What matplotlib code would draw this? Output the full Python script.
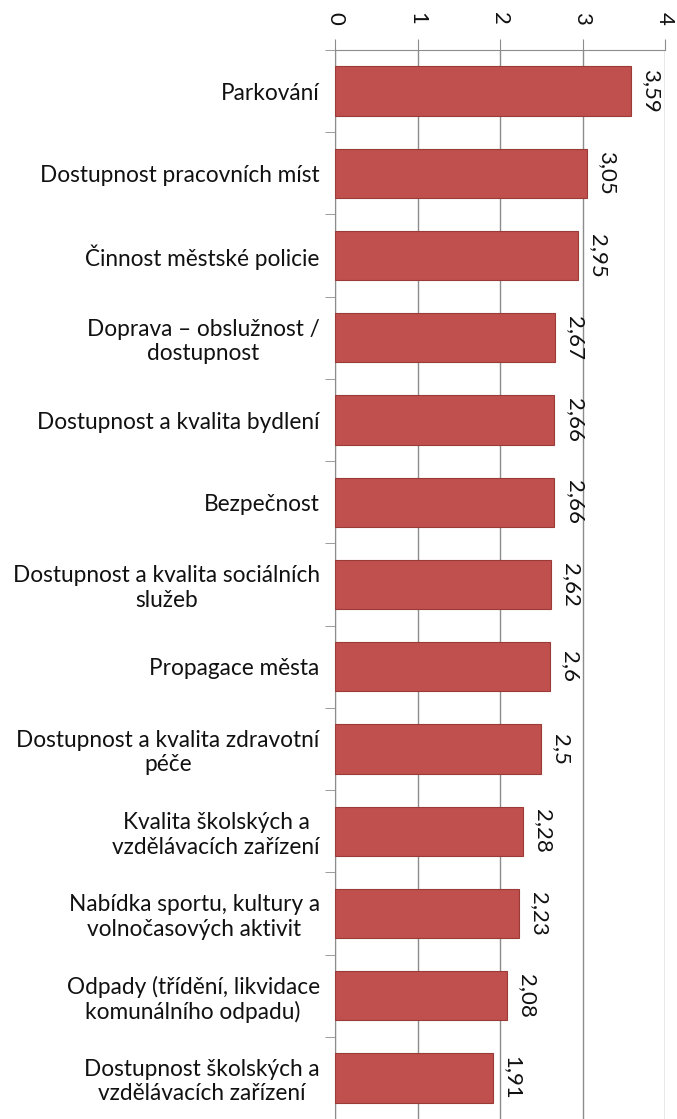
import matplotlib
matplotlib.use("Agg")
import matplotlib.pyplot as plt
import numpy as np

# survey categories (top to bottom) and mean scores
categories = [
    "Parkování",
    "Dostupnost pracovních míst",
    "Činnost městské policie",
    "Doprava – obslužnost /\ndostupnost",
    "Dostupnost a kvalita bydlení",
    "Bezpečnost",
    "Dostupnost a kvalita sociálních\nslužeb",
    "Propagace města",
    "Dostupnost a kvalita zdravotní\npéče",
    "Kvalita školských a\nvzdělávacích zařízení",
    "Nabídka sportu, kultury a\nvolnočasových aktivit",
    "Odpady (třídění, likvidace\nkomunálního odpadu)",
    "Dostupnost školských a\nvzdělávacích zařízení",
]
values = [3.59, 3.05, 2.95, 2.67, 2.66, 2.66, 2.62, 2.6, 2.5, 2.28, 2.23, 2.08, 1.91]
value_labels = ["3,59", "3,05", "2,95", "2,67", "2,66", "2,66", "2,62", "2,6", "2,5",
                "2,28", "2,23", "2,08", "1,91"]
x_ticks = [0, 1, 2, 3, 4]

plt.rcParams['font.family'] = ['Lato', 'DejaVu Sans']

fig = plt.figure(figsize=(6.77, 11.19), dpi=100)
ax = fig.add_axes([335 / 677, 0.0, 330 / 677, 1 - 50 / 1119])

y = np.arange(len(categories))
ax.barh(y, values, height=0.6, color="#C0504D", edgecolor="#9A3B38", linewidth=0.8, zorder=3)

ax.set_xlim(0, 4)
ax.set_ylim(len(categories) - 0.5, -0.5)

grid_col = "#8C8C8C"
txt_col = "#111111"
ax.xaxis.tick_top()
ax.set_xticks(x_ticks)
ax.set_xticklabels([str(t) for t in x_ticks], rotation=-90, fontsize=16, color=txt_col)
ax.tick_params(axis="x", direction="out", length=8, color=grid_col, pad=10)
ax.grid(axis="x", color=grid_col, linewidth=1.0, zorder=0)

ax.set_yticks(y)
ax.set_yticklabels(categories, fontsize=16.3, multialignment="center", color=txt_col)
ax.tick_params(axis="y", which="major", length=0, pad=11)
ax.set_yticks(np.arange(len(categories) + 1) - 0.5, minor=True)
ax.tick_params(axis="y", which="minor", direction="out", length=7, color=grid_col)

for side in ["right", "bottom"]:
    ax.spines[side].set_visible(False)
for side in ["top", "left"]:
    ax.spines[side].set_color(grid_col)

for yi, v, lab in zip(y, values, value_labels):
    ax.annotate(lab, (v, yi), xytext=(10, 0), textcoords="offset pixels",
                rotation=-90, ha="left", va="center", fontsize=16, color=txt_col)

fig.savefig("out.png", dpi=100)
